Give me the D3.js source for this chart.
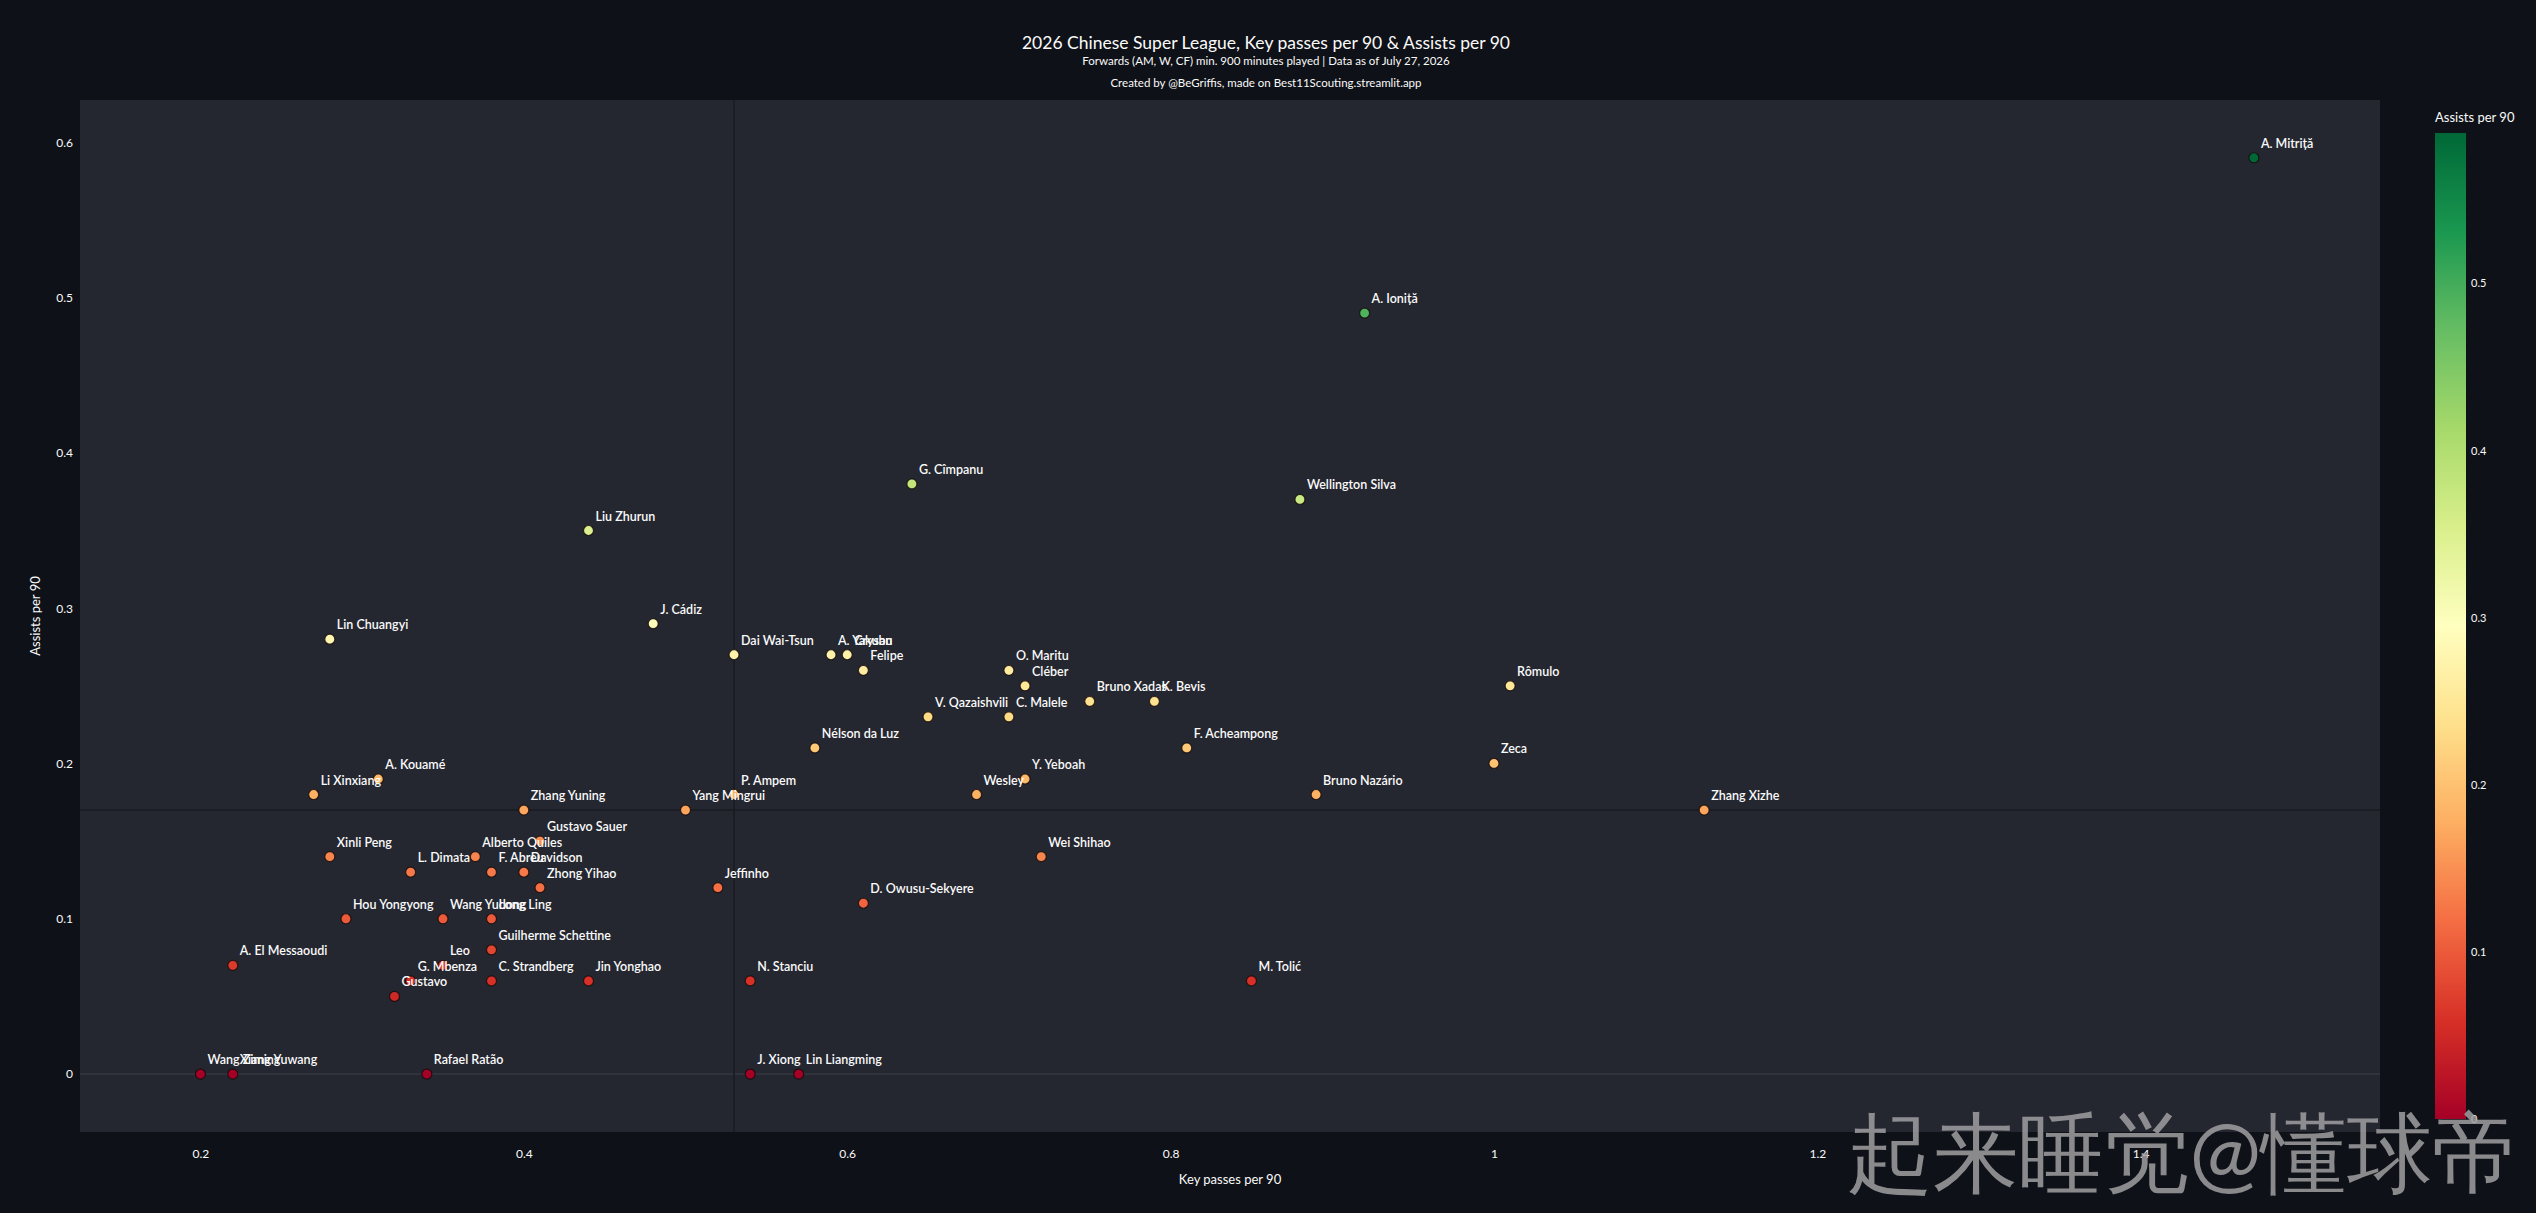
<!DOCTYPE html>
<html>
<head>
<meta charset="utf-8">
<script src="https://cdn.jsdelivr.net/npm/d3@7"></script>
<style>
  body { margin: 0; background: #0e1117; }
  svg text { font-family: Lato, "Noto Sans", sans-serif; fill: #fafafa; }
</style>
</head>
<body>
<div id="chart"></div>
<script>
const width = 2536
const height = 1213

// players
const players = ["A. Mitriță", "A. Ioniță", "G. Cîmpanu", "Wellington Silva", "Liu Zhurun", "J. Cádiz",
  "Lin Chuangyi", "Dai Wai-Tsun", "A. Yakubu", "Crysan", "Felipe", "O. Maritu", "Cléber", "Bruno Xadas",
  "K. Bevis", "Rômulo", "V. Qazaishvili", "C. Malele", "Nélson da Luz", "F. Acheampong", "Zeca",
  "Y. Yeboah", "Wesley", "Bruno Nazário", "Zhang Xizhe", "A. Kouamé", "Li Xinxiang", "Zhang Yuning",
  "P. Ampem", "Yang Mingrui", "Gustavo Sauer", "Alberto Quiles", "Xinli Peng", "L. Dimata", "F. Abreu",
  "Davidson", "Zhong Yihao", "Jeffinho", "Wei Shihao", "D. Owusu-Sekyere", "Hou Yongyong", "Wang Yudong",
  "Long Ling", "Guilherme Schettine", "Leo", "A. El Messaoudi", "G. Mbenza", "C. Strandberg",
  "Jin Yonghao", "Gustavo", "Wang Ziming", "Xiang Yuwang", "Rafael Ratão", "N. Stanciu", "M. Tolić",
  "J. Xiong", "Lin Liangming"]

const keyPasses = [1.47, 0.92, 0.64, 0.88, 0.44, 0.48,
  0.28, 0.53, 0.59, 0.60, 0.61, 0.70, 0.71, 0.75,
  0.79, 1.01, 0.65, 0.70, 0.58, 0.81, 1.00,
  0.71, 0.68, 0.89, 1.13, 0.31, 0.27, 0.40,
  0.53, 0.50, 0.41, 0.37, 0.28, 0.33, 0.38,
  0.40, 0.41, 0.52, 0.72, 0.61, 0.29, 0.35,
  0.38, 0.38, 0.35, 0.22, 0.33, 0.38,
  0.44, 0.32, 0.20, 0.22, 0.34, 0.54, 0.85,
  0.54, 0.57]

const assists = [0.59, 0.49, 0.38, 0.37, 0.35, 0.29,
  0.28, 0.27, 0.27, 0.27, 0.26, 0.26, 0.25, 0.24,
  0.24, 0.25, 0.23, 0.23, 0.21, 0.21, 0.20,
  0.19, 0.18, 0.18, 0.17, 0.19, 0.18, 0.17,
  0.18, 0.17, 0.15, 0.14, 0.14, 0.13, 0.13,
  0.13, 0.12, 0.12, 0.14, 0.11, 0.10, 0.10,
  0.10, 0.08, 0.07, 0.07, 0.06, 0.06,
  0.06, 0.05, 0, 0, 0, 0.06, 0.06,
  0, 0]

const xTicks = [0.2, 0.4, 0.6, 0.8, 1, 1.2, 1.4]
const yTicks = [0, 0.1, 0.2, 0.3, 0.4, 0.5, 0.6]
const cbTicks = [0, 0.1, 0.2, 0.3, 0.4, 0.5]

// plotly RdYlGn
const rdylgn = ["rgb(165,0,38)", "rgb(215,48,39)", "rgb(244,109,67)", "rgb(253,174,97)", "rgb(254,224,139)",
  "rgb(255,255,191)", "rgb(217,239,139)", "rgb(166,217,106)", "rgb(102,189,99)", "rgb(26,152,80)", "rgb(0,104,55)"]

const titleText = "2026 Chinese Super League, Key passes per 90 & Assists per 90"
const subText = "Forwards (AM, W, CF) min. 900 minutes played | Data as of July 27, 2026"
const creditText = "Created by @BeGriffis, made on Best11Scouting.streamlit.app"
const watermark = "起来睡觉@懂球帝"

const data = players.map((p, i) => ({ name: p, kp: keyPasses[i], ast: assists[i] }))

const plot = { left: 80, right: 2380, top: 100, bottom: 1132 }

const svg = d3.select("#chart").append("svg")
    .attr("width", width)
    .attr("height", height)
    .style("display", "block")

svg.append("rect").attr("width", width).attr("height", height).attr("fill", "#0e1117")

const x = d3.scaleLinear().domain([0.1255, 1.548]).range([plot.left, plot.right])
const y = d3.scaleLinear().domain([-0.0373, 0.6272]).range([plot.bottom, plot.top])

const cmax = d3.max(assists)
const color = d3.scaleLinear()
    .domain(rdylgn.map((c, i) => i / (rdylgn.length - 1) * cmax))
    .range(rdylgn)
    .clamp(true)

// plot background
svg.append("rect")
    .attr("x", plot.left).attr("y", plot.top)
    .attr("width", plot.right - plot.left).attr("height", plot.bottom - plot.top)
    .attr("fill", "#252730")

// zero line
svg.append("line")
    .attr("x1", plot.left).attr("x2", plot.right)
    .attr("y1", y(0)).attr("y2", y(0))
    .attr("stroke", "#30323c").attr("stroke-width", 2)

// median lines
const medX = d3.median(keyPasses)
const medY = d3.median(assists)
svg.append("line")
    .attr("x1", x(medX)).attr("x2", x(medX))
    .attr("y1", plot.top).attr("y2", plot.bottom)
    .attr("stroke", "#191b21").attr("stroke-width", 1.5)
svg.append("line")
    .attr("x1", plot.left).attr("x2", plot.right)
    .attr("y1", y(medY)).attr("y2", y(medY))
    .attr("stroke", "#191b21").attr("stroke-width", 1.5)

// axes (labels only)
const xAxis = svg.append("g")
    .attr("transform", `translate(0,${plot.bottom + 14})`)
    .call(d3.axisBottom(x).tickValues(xTicks).tickSize(0).tickFormat(d3.format("")))
xAxis.select(".domain").remove()
xAxis.selectAll("text").attr("font-size", 12).attr("fill", "#fafafa")

const yAxis = svg.append("g")
    .attr("transform", `translate(${plot.left - 4},0)`)
    .call(d3.axisLeft(y).tickValues(yTicks).tickSize(0).tickFormat(d3.format("")))
yAxis.select(".domain").remove()
yAxis.selectAll("text").attr("font-size", 12).attr("fill", "#fafafa")

svg.append("text")
    .attr("x", (plot.left + plot.right) / 2).attr("y", 1184)
    .attr("text-anchor", "middle").attr("font-size", 13)
    .text("Key passes per 90")

svg.append("text")
    .attr("transform", `translate(40,${(plot.top + plot.bottom) / 2}) rotate(-90)`)
    .attr("text-anchor", "middle").attr("font-size", 13)
    .text("Assists per 90")

// titles
svg.append("text").attr("x", 1266).attr("y", 49).attr("text-anchor", "middle")
    .attr("font-size", 17.5).text(titleText)
svg.append("text").attr("x", 1266).attr("y", 65).attr("text-anchor", "middle")
    .attr("font-size", 11.5).text(subText)
svg.append("text").attr("x", 1266).attr("y", 87).attr("text-anchor", "middle")
    .attr("font-size", 11.5).text(creditText)

// points
const pts = svg.append("g").attr("id", "puntos")
pts.selectAll("circle")
    .data(data)
    .join("circle")
    .attr("cx", d => x(d.kp))
    .attr("cy", d => y(d.ast))
    .attr("r", 5)
    .attr("fill", d => color(d.ast))
    .attr("stroke", "rgba(20,10,10,0.8)")
    .attr("stroke-width", 1.2)

pts.selectAll("text")
    .data(data)
    .join("text")
    .attr("x", d => x(d.kp) + 7)
    .attr("y", d => y(d.ast) - 10)
    .attr("font-size", 12.5)
    .attr("font-weight", 600)
    .text(d => d.name)

// colorbar
const cb = { x: 2435, w: 31 }
const cbY = d3.scaleLinear().domain([0, cmax]).range([1119, 133])
const grad = svg.append("defs").append("linearGradient")
    .attr("id", "cbgrad").attr("x1", 0).attr("x2", 0).attr("y1", 1).attr("y2", 0)
grad.selectAll("stop")
    .data(rdylgn)
    .join("stop")
    .attr("offset", (c, i) => i / (rdylgn.length - 1))
    .attr("stop-color", c => c)
svg.append("rect")
    .attr("x", cb.x).attr("y", cbY(cmax))
    .attr("width", cb.w).attr("height", cbY(0) - cbY(cmax))
    .attr("fill", "url(#cbgrad)")
const cbAxis = svg.append("g")
    .attr("transform", `translate(${cb.x + cb.w + 2},0)`)
    .call(d3.axisRight(cbY).tickValues(cbTicks).tickSize(0).tickFormat(d3.format("")))
cbAxis.select(".domain").remove()
cbAxis.selectAll("text").attr("font-size", 11).attr("fill", "#fafafa")
svg.append("text").attr("x", cb.x).attr("y", 122)
    .attr("font-size", 13).text("Assists per 90")

// watermark
svg.append("text")
    .attr("x", 1847).attr("y", 1184)
    .attr("font-family", "'Noto Sans CJK SC', sans-serif")
    .attr("font-size", 88)
    .attr("textLength", 671).attr("lengthAdjust", "spacingAndGlyphs")
    .style("fill", "rgba(160,160,162,0.85)")
    .text(watermark)
</script>
</body>
</html>
